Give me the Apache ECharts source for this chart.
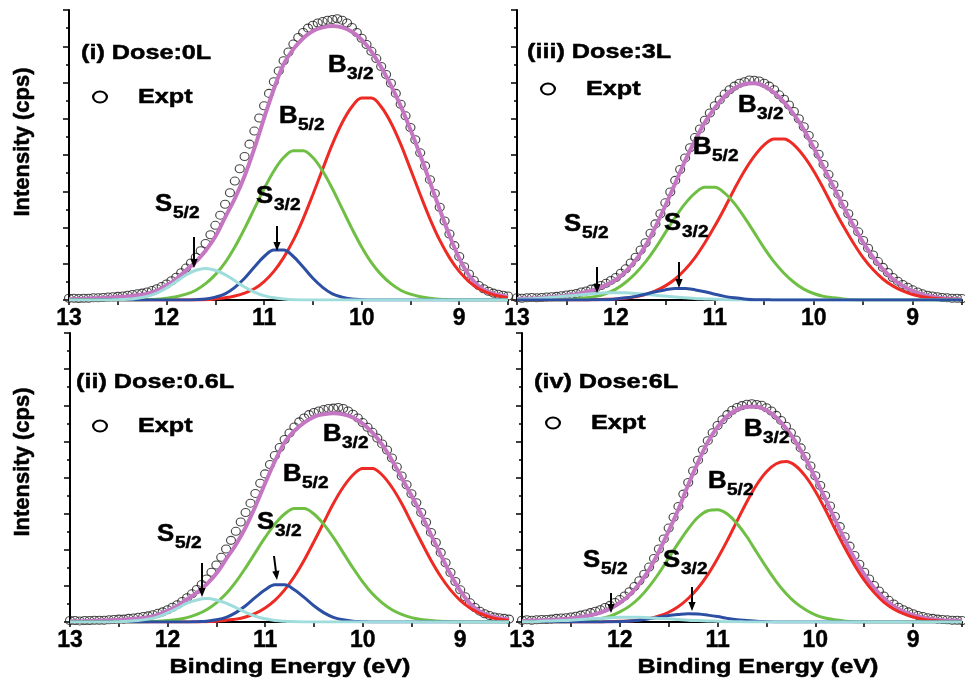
<!DOCTYPE html>
<html><head><meta charset="utf-8">
<script src="https://cdn.jsdelivr.net/npm/echarts@6/dist/echarts.min.js"></script>
<style>html,body{margin:0;padding:0;background:#fff}#c{width:965px;height:678px}</style>
</head><body><div id="c"></div><script>
// ---- energies (eV) ----
const fitEnergy = [13.0,12.9,12.8,12.7,12.6,12.5,12.4,12.3,12.2,12.1,12.0,11.9,11.8,11.7,11.6,11.5,11.4,11.3,11.2,11.1,11.0,10.9,10.8,10.7,10.6,10.5,10.4,10.3,10.2,10.1,10.0,9.9,9.8,9.7,9.6,9.5,9.4,9.3,9.2,9.1,9.0,8.9,8.8,8.7,8.6,8.5];
const exptEnergy = [13.00,12.95,12.90,12.85,12.80,12.75,12.70,12.65,12.60,12.55,12.50,12.45,12.40,12.35,12.30,12.25,12.20,12.15,12.10,12.05,12.00,11.95,11.90,11.85,11.80,11.75,11.70,11.65,11.60,11.55,11.50,11.45,11.40,11.35,11.30,11.25,11.20,11.15,11.10,11.05,11.00,10.95,10.90,10.85,10.80,10.75,10.70,10.65,10.60,10.55,10.50,10.45,10.40,10.35,10.30,10.25,10.20,10.15,10.10,10.05,10.00,9.95,9.90,9.85,9.80,9.75,9.70,9.65,9.60,9.55,9.50,9.45,9.40,9.35,9.30,9.25,9.20,9.15,9.10,9.05,9.00,8.95,8.90,8.85,8.80,8.75,8.70,8.65,8.60,8.55,8.50];
const xTickLabels = [13, 12, 11, 10, 9];

// ---- (i) Dose: 0L ----
const dose0Expt = [0.05,0.05,0.04,0.05,0.05,0.06,0.06,0.07,0.08,0.09,0.10,0.11,0.13,0.15,0.17,0.19,0.22,0.26,0.31,0.37,0.44,0.53,0.63,0.75,0.88,1.02,1.18,1.36,1.56,1.80,2.06,2.34,2.64,2.96,3.28,3.62,3.96,4.30,4.66,5.02,5.36,5.70,6.02,6.32,6.60,6.84,7.06,7.24,7.38,7.50,7.58,7.64,7.68,7.72,7.74,7.76,7.72,7.64,7.52,7.38,7.22,7.05,6.86,6.66,6.44,6.22,5.98,5.70,5.40,5.08,4.76,4.42,4.06,3.70,3.32,2.94,2.56,2.18,1.82,1.50,1.20,0.92,0.72,0.54,0.40,0.31,0.24,0.19,0.16,0.13,0.11];
const dose0Fit = [0.02,0.03,0.04,0.05,0.06,0.08,0.10,0.13,0.17,0.26,0.40,0.58,0.82,1.06,1.36,1.75,2.28,2.80,3.42,4.18,5.02,5.82,6.50,6.92,7.22,7.42,7.52,7.56,7.52,7.40,7.18,6.85,6.42,5.92,5.35,4.70,4.00,3.25,2.50,1.78,1.15,0.68,0.38,0.22,0.14,0.09];
const dose0B32 = [0,0,0,0,0,0,0,0,0,0,0,0,0,0,0.01,0.03,0.06,0.11,0.19,0.31,0.51,0.79,1.17,1.65,2.24,2.91,3.61,4.30,4.89,5.33,5.57,5.57,5.33,4.89,4.30,3.61,2.91,2.24,1.65,1.17,0.79,0.51,0.31,0.19,0.11,0.06];
const dose0B52 = [0,0,0,0,0,0,0,0,0.01,0.02,0.05,0.09,0.16,0.27,0.45,0.70,1.03,1.46,1.97,2.52,3.07,3.56,3.93,4.12,4.12,3.93,3.56,3.07,2.52,1.97,1.46,1.03,0.70,0.45,0.27,0.16,0.09,0.05,0.02,0.01,0,0,0,0,0,0];
const dose0S32 = [0,0,0,0,0,0,0,0,0,0,0,0,0,0.01,0.03,0.08,0.17,0.35,0.60,0.91,1.20,1.38,1.38,1.20,0.91,0.60,0.35,0.17,0.08,0.03,0.01,0,0,0,0,0,0,0,0,0,0,0,0,0,0,0];
const dose0S52 = [0,0,0,0,0,0.01,0.02,0.05,0.10,0.19,0.33,0.51,0.69,0.82,0.87,0.82,0.70,0.53,0.36,0.22,0.12,0.06,0.03,0.01,0,0,0,0,0,0,0,0,0,0,0,0,0,0,0,0,0,0,0,0,0,0];

// ---- (iii) Dose: 3L ----
const dose3Expt = [0.06,0.05,0.06,0.07,0.06,0.07,0.08,0.09,0.10,0.12,0.14,0.16,0.18,0.22,0.25,0.30,0.34,0.40,0.46,0.54,0.62,0.74,0.86,1.02,1.18,1.38,1.58,1.84,2.10,2.38,2.68,2.98,3.30,3.60,3.92,4.20,4.48,4.72,4.96,5.16,5.36,5.52,5.68,5.80,5.90,5.98,6.02,6.07,6.06,6.04,5.98,5.90,5.80,5.66,5.54,5.38,5.20,5.00,4.78,4.54,4.28,4.02,3.74,3.46,3.18,2.92,2.64,2.38,2.12,1.88,1.64,1.43,1.24,1.06,0.90,0.76,0.62,0.52,0.43,0.35,0.28,0.22,0.17,0.13,0.11,0.09,0.07,0.06,0.05,0.05,0.04];
const dose3Fit = [0.03,0.04,0.05,0.07,0.09,0.12,0.16,0.22,0.30,0.41,0.56,0.79,1.10,1.50,2.02,2.60,3.22,3.84,4.40,4.90,5.30,5.62,5.84,5.96,5.98,5.90,5.72,5.46,5.12,4.70,4.20,3.66,3.12,2.58,2.06,1.59,1.18,0.85,0.58,0.39,0.25,0.15,0.09,0.05,0.03,0.02];
const dose3B32 = [0,0,0,0,0,0,0,0,0.01,0.02,0.03,0.05,0.09,0.15,0.25,0.39,0.58,0.84,1.17,1.58,2.04,2.54,3.07,3.56,3.97,4.28,4.44,4.44,4.28,3.97,3.56,3.07,2.54,2.04,1.58,1.17,0.84,0.58,0.39,0.25,0.15,0.09,0.05,0.03,0.02,0.01];
const dose3B52 = [0,0,0,0,0,0.01,0.03,0.06,0.10,0.18,0.30,0.49,0.74,1.05,1.43,1.86,2.28,2.66,2.95,3.11,3.11,2.95,2.66,2.28,1.86,1.43,1.05,0.74,0.49,0.30,0.18,0.10,0.06,0.03,0.01,0,0,0,0,0,0,0,0,0,0,0];
const dose3S32 = [0,0,0,0,0,0,0,0,0.01,0.01,0.03,0.06,0.10,0.16,0.23,0.28,0.32,0.32,0.28,0.23,0.16,0.10,0.06,0.03,0.01,0.01,0,0,0,0,0,0,0,0,0,0,0,0,0,0,0,0,0,0,0,0];
const dose3S52 = [0.02,0.03,0.04,0.06,0.08,0.11,0.13,0.16,0.18,0.20,0.20,0.20,0.18,0.16,0.13,0.11,0.08,0.06,0.04,0.03,0.02,0.01,0,0,0,0,0,0,0,0,0,0,0,0,0,0,0,0,0,0,0,0,0,0,0,0];

// ---- (ii) Dose: 0.6L ----
const dose06Expt = [0.04,0.04,0.03,0.04,0.04,0.05,0.05,0.05,0.06,0.07,0.08,0.08,0.10,0.11,0.13,0.15,0.17,0.20,0.24,0.28,0.34,0.41,0.48,0.57,0.67,0.78,0.90,1.04,1.19,1.38,1.58,1.79,2.02,2.26,2.51,2.77,3.03,3.29,3.56,3.84,4.10,4.36,4.61,4.83,5.05,5.23,5.40,5.54,5.65,5.74,5.80,5.84,5.88,5.91,5.92,5.94,5.91,5.84,5.75,5.65,5.52,5.39,5.25,5.09,4.93,4.76,4.54,4.29,4.04,3.80,3.55,3.30,3.03,2.76,2.48,2.20,1.92,1.64,1.37,1.12,0.89,0.70,0.53,0.40,0.30,0.23,0.18,0.14,0.12,0.10,0.08];
const dose06Fit = [0.02,0.02,0.03,0.04,0.05,0.06,0.08,0.10,0.13,0.20,0.31,0.44,0.63,0.81,1.04,1.34,1.74,2.14,2.62,3.20,3.84,4.45,4.97,5.29,5.52,5.68,5.75,5.78,5.75,5.66,5.49,5.24,4.91,4.48,3.99,3.50,2.98,2.42,1.86,1.32,0.86,0.51,0.29,0.17,0.11,0.07];
const dose06B32 = [0,0,0,0,0,0,0,0,0,0,0,0,0,0,0.01,0.02,0.05,0.08,0.14,0.24,0.39,0.60,0.89,1.26,1.71,2.22,2.75,3.28,3.73,4.07,4.25,4.25,4.07,3.73,3.28,2.75,2.22,1.71,1.26,0.89,0.60,0.39,0.24,0.14,0.08,0.05];
const dose06B52 = [0,0,0,0,0,0,0,0,0.01,0.02,0.04,0.07,0.12,0.21,0.34,0.53,0.78,1.11,1.50,1.92,2.34,2.71,2.99,3.14,3.14,2.99,2.71,2.34,1.92,1.50,1.11,0.78,0.53,0.34,0.21,0.12,0.07,0.04,0.02,0.01,0,0,0,0,0,0];
const dose06S32 = [0,0,0,0,0,0,0,0,0,0,0,0,0,0.01,0.02,0.06,0.13,0.26,0.45,0.68,0.89,1.03,1.03,0.89,0.68,0.45,0.26,0.13,0.06,0.02,0.01,0,0,0,0,0,0,0,0,0,0,0,0,0,0,0];
const dose06S52 = [0,0,0,0,0,0.01,0.02,0.04,0.08,0.14,0.25,0.38,0.52,0.61,0.65,0.61,0.52,0.40,0.27,0.16,0.09,0.04,0.02,0.01,0,0,0,0,0,0,0,0,0,0,0,0,0,0,0,0,0,0,0,0,0,0];

// ---- (iv) Dose: 6L ----
const dose6Expt = [0.05,0.06,0.05,0.06,0.07,0.07,0.08,0.10,0.11,0.12,0.14,0.16,0.19,0.22,0.26,0.30,0.34,0.40,0.46,0.54,0.62,0.72,0.84,0.98,1.14,1.32,1.52,1.76,2.02,2.30,2.60,2.90,3.20,3.54,3.86,4.18,4.48,4.76,5.02,5.24,5.44,5.60,5.74,5.86,5.94,5.99,6.03,6.04,6.02,6.00,5.93,5.84,5.72,5.58,5.42,5.24,5.04,4.82,4.58,4.32,4.05,3.78,3.50,3.21,2.92,2.64,2.36,2.10,1.84,1.60,1.38,1.19,1.01,0.86,0.72,0.60,0.50,0.41,0.34,0.28,0.23,0.18,0.15,0.12,0.10,0.08,0.07,0.06,0.05,0.05,0.04];
const dose6Fit = [0.03,0.04,0.05,0.06,0.08,0.10,0.14,0.19,0.26,0.37,0.53,0.75,1.06,1.45,1.95,2.52,3.12,3.80,4.42,4.98,5.40,5.70,5.88,5.96,5.96,5.86,5.66,5.36,4.98,4.52,3.98,3.42,2.84,2.28,1.76,1.32,0.95,0.66,0.44,0.29,0.19,0.12,0.08,0.05,0.04,0.03];
const dose6B32 = [0,0,0,0,0,0,0,0,0,0.01,0.02,0.03,0.06,0.10,0.17,0.27,0.43,0.65,0.94,1.31,1.76,2.26,2.80,3.33,3.80,4.16,4.38,4.44,4.32,4.03,3.62,3.12,2.58,2.06,1.58,1.16,0.82,0.55,0.36,0.23,0.14,0.08,0.04,0.02,0.01,0.01];
const dose6B52 = [0,0,0,0,0,0.01,0.02,0.05,0.09,0.16,0.28,0.44,0.67,0.98,1.35,1.77,2.19,2.58,2.90,3.08,3.11,2.99,2.72,2.36,1.93,1.51,1.12,0.79,0.53,0.34,0.20,0.11,0.06,0.03,0.01,0,0,0,0,0,0,0,0,0,0,0];
const dose6S32 = [0,0,0,0,0,0,0,0,0,0.01,0.01,0.03,0.05,0.09,0.13,0.18,0.21,0.23,0.22,0.19,0.15,0.10,0.06,0.04,0.02,0.01,0,0,0,0,0,0,0,0,0,0,0,0,0,0,0,0,0,0,0,0];
const dose6S52 = [0.01,0.01,0.02,0.03,0.04,0.05,0.07,0.09,0.10,0.12,0.13,0.13,0.13,0.12,0.10,0.09,0.07,0.05,0.04,0.03,0.02,0.01,0.01,0,0,0,0,0,0,0,0,0,0,0,0,0,0,0,0,0,0,0,0,0,0,0];

const panelTitles = ['(i) Dose:0L', '(iii) Dose:3L', '(ii) Dose:0.6L', '(iv) Dose:6L'];

// ---------------------------------------------------------------
const FONT = '"Liberation Sans", Arial, Helvetica, sans-serif';
const COL = { red:'#ee2a24', green:'#6fbf44', blue:'#2c4fa3', cyan:'#9fdcdc', purple:'#c576c3' };
const zip = (xs, ys) => xs.map((x, i) => [x, ys[i]]).filter(p => p[1] !== undefined);

const panels = [
  { expt: dose0Expt, fit: dose0Fit, b32: dose0B32, b52: dose0B52, s32: dose0S32, s52: dose0S52, blueTop: false },
  { expt: dose3Expt, fit: dose3Fit, b32: dose3B32, b52: dose3B52, s32: dose3S32, s52: dose3S52, blueTop: true },
  { expt: dose06Expt, fit: dose06Fit, b32: dose06B32, b52: dose06B52, s32: dose06S32, s52: dose06S52, blueTop: false },
  { expt: dose6Expt, fit: dose6Fit, b32: dose6B32, b52: dose6B52, s32: dose6S32, s52: dose6S52, blueTop: false }
];

const grids = [
  { left: 69, top: 10, width: 439, height: 290 },
  { left: 517, top: 10, width: 452, height: 290 },
  { left: 70, top: 333, width: 439, height: 289 },
  { left: 522, top: 333, width: 450, height: 289 }
];

const xAxes = grids.map((g, i) => ({
  type: 'value', gridIndex: i, min: 8.5, max: 13, interval: 0.5, inverse: true,
  axisLine: { show: true, onZero: false, lineStyle: { color: '#000', width: 2 } },
  axisTick: { show: true, length: 5, lineStyle: { color: '#000', width: 1.5 } },
  axisLabel: { show: true, margin: 7, color: '#000', fontSize: 23, fontWeight: 'bold', fontFamily: FONT,
    textBorderColor: '#000', textBorderWidth: 0.4,
    formatter: v => (xTickLabels.indexOf(Math.round(v * 100) / 100) >= 0 ? String(Math.round(v)) : ''),
    hideOverlap: false },
  splitLine: { show: false }
}));
const yAxes = grids.map((g, i) => ({
  type: 'value', gridIndex: i, min: 0, max: 8, interval: 1,
  axisLine: { show: true, lineStyle: { color: '#000', width: 2 } },
  axisTick: { show: true, length: 6, lineStyle: { color: '#000', width: 1.5 } },
  minorTick: { show: true, splitNumber: 2, length: 3, lineStyle: { color: '#000', width: 1.5 } },
  axisLabel: { show: false },
  splitLine: { show: false }, minorSplitLine: { show: false }
}));

const series = [];
panels.forEach((p, i) => {
  series.push({ type: 'scatter', xAxisIndex: i, yAxisIndex: i, data: zip(exptEnergy, p.expt), z: 2,
    symbol: 'circle', symbolSize: [9, 8], silent: true,
    itemStyle: { color: 'rgba(255,255,255,0)', borderColor: '#1a1a1a', borderWidth: 1.1 } });
  const line = (data, color, width, z) => ({ type: 'line', xAxisIndex: i, yAxisIndex: i, data: zip(fitEnergy, data),
    showSymbol: false, symbol: 'none', smooth: 0.35, z, silent: true,
    lineStyle: { color, width } });
  series.push(line(p.fit, COL.purple, 4, 3));
  series.push(line(p.b32, COL.red, 3, 4));
  series.push(line(p.b52, COL.green, 3, 4));
  if (p.blueTop) {
    series.push(line(p.s52, COL.cyan, 3, 4));
    series.push(line(p.s32, COL.blue, 3, 4));
  } else {
    series.push(line(p.s32, COL.blue, 3, 4));
    series.push(line(p.s52, COL.cyan, 3, 4));
  }
});

// ---- annotations ----
const g = [];
function txt(x, y, text, size, opt) {
  opt = opt || {};
  g.push({ type: 'text', x, y, scaleX: opt.sx || 1.2, rotation: opt.rot || 0, z: 100,
    style: { text, fill: '#000', stroke: '#000', lineWidth: 0.5, fontSize: size, fontWeight: 'bold', fontFamily: FONT,
      align: opt.align || 'left', verticalAlign: 'middle' } });
}
function subLabel(x, y, main, sub) {
  txt(x, y, main, 23, { sx: 1.12 });
  txt(x + (main === 'B' ? 19 : 18), y + 8, sub, 17, { sx: 1.12 });
}
function arrow(x1, y1, x2, y2) {
  const a = Math.atan2(y2 - y1, x2 - x1), L = 9, W = 3.6;
  const bx = x2 - L * Math.cos(a), by = y2 - L * Math.sin(a);
  g.push({ type: 'line', z: 100, shape: { x1, y1, x2: bx, y2: by }, style: { stroke: '#000', lineWidth: 2 } });
  g.push({ type: 'polygon', z: 100, shape: { points: [[x2, y2],
    [bx + W * Math.sin(a), by - W * Math.cos(a)], [bx - W * Math.sin(a), by + W * Math.cos(a)]] },
    style: { fill: '#000' } });
}
function legend(cx, cy, tx) {
  g.push({ type: 'circle', x: cx, y: cy, scaleX: 1.25, z: 100, shape: { cx: 0, cy: 0, r: 5.5 },
    style: { fill: 'none', stroke: '#000', lineWidth: 1.8 } });
  txt(tx, cy, 'Expt', 21);
}

// titles
txt(81, 53, panelTitles[0], 21);
txt(527, 52, panelTitles[1], 21);
txt(76, 382, panelTitles[2], 21);
txt(534, 382, panelTitles[3], 21);
// legends
legend(100, 97, 138);
legend(548, 89, 586);
legend(100, 426, 138);
legend(553, 423, 591);
// peak labels
subLabel(328, 66, 'B', '3/2'); subLabel(279, 117, 'B', '5/2'); subLabel(256, 197, 'S', '3/2'); subLabel(155, 205, 'S', '5/2');
subLabel(738, 106, 'B', '3/2'); subLabel(693, 148, 'B', '5/2'); subLabel(664, 224, 'S', '3/2'); subLabel(564, 225, 'S', '5/2');
subLabel(323, 435, 'B', '3/2'); subLabel(283, 475, 'B', '5/2'); subLabel(257, 523, 'S', '3/2'); subLabel(157, 535, 'S', '5/2');
subLabel(744, 430, 'B', '3/2'); subLabel(708, 482, 'B', '5/2'); subLabel(663, 561, 'S', '3/2'); subLabel(583, 561, 'S', '5/2');
// arrows
arrow(194, 237, 194, 268); arrow(277, 226, 277, 251);
arrow(597, 267, 597, 293); arrow(679, 262, 679, 288);
arrow(202, 563, 202, 597); arrow(274, 556, 277, 580);
arrow(611, 593, 611, 613); arrow(692, 587, 692, 611);
// axis titles
txt(23, 142, 'Intensity (cps)', 22, { sx: 1, rot: Math.PI / 2, align: 'center' });
txt(23, 462, 'Intensity (cps)', 22, { sx: 1, rot: Math.PI / 2, align: 'center' });
txt(290, 667, 'Binding Energy (eV)', 21, { align: 'center' });
txt(758, 667, 'Binding Energy (eV)', 21, { align: 'center' });

const chart = echarts.init(document.getElementById('c'), null, { renderer: 'canvas' });
chart.setOption({
  animation: false,
  backgroundColor: '#fff',
  grid: grids,
  xAxis: xAxes,
  yAxis: yAxes,
  series,
  graphic: { elements: g }
});
</script></body></html>
